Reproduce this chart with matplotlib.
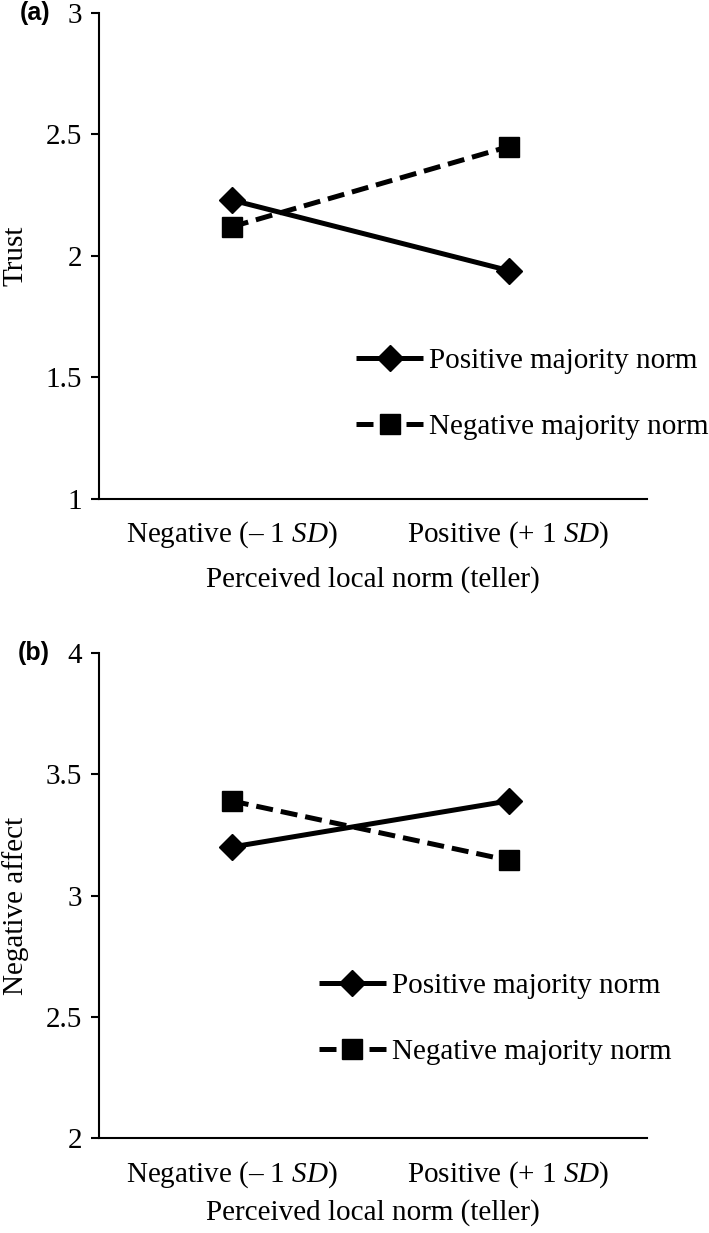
import matplotlib
matplotlib.use("Agg")
import matplotlib.pyplot as plt

# ---------------------------------------------------------------------------
# DATA
# ---------------------------------------------------------------------------
categories  = [r"Negative (– 1 $\mathit{SD}$)", r"Positive (+ 1 $\mathit{SD}$)"]
series_names = ["Positive majority norm", "Negative majority norm"]

trust_pos = [2.23, 1.94]
trust_neg = [2.12, 2.45]

affect_pos = [3.20, 3.39]
affect_neg = [3.39, 3.145]

trust_ticks  = [1, 1.5, 2, 2.5, 3]
trust_labels = ["1", "1.5", "2", "2.5", "3"]
affect_ticks  = [2, 2.5, 3, 3.5, 4]
affect_labels = ["2", "2.5", "3", "3.5", "4"]

xlabel = "Perceived local norm (teller)"

# ---------------------------------------------------------------------------
# STYLE
# ---------------------------------------------------------------------------
plt.rcParams["font.family"] = ["Liberation Serif", "DejaVu Serif"]
plt.rcParams["mathtext.fontset"] = "custom"
plt.rcParams["mathtext.rm"] = "Liberation Serif"
plt.rcParams["mathtext.it"] = "Liberation Serif:italic"

FS = 21
LW = 3.6

fig = plt.figure(figsize=(7.09, 12.33), dpi=100)
ax_a = fig.add_axes([0.1396, 0.5953, 0.7730, 0.3942])
ax_b = fig.add_axes([0.1396, 0.0770, 0.7730, 0.3934])


def draw_panel(ax, pos, neg, ticks, tlabels, ylabel, tag, leg_anchor,
               ylab_y, xlab_pad):
    x = list(range(len(categories)))
    ax.plot(x, pos, color="black", lw=LW, marker="D", markersize=13,
            label=series_names[0], solid_capstyle="butt")
    ax.plot(x, neg, color="black", lw=LW, marker="s", markersize=15,
            dashes=(3.4, 1.6), label=series_names[1])

    ax.set_xlim(-0.48, 1.5)
    ax.set_ylim(ticks[0], ticks[-1])
    ax.set_xticks(x)
    ax.set_xticklabels(categories, fontsize=FS)
    ax.set_yticks(ticks)
    ax.set_yticklabels(tlabels, fontsize=FS)
    ax.set_xlabel(xlabel, fontsize=FS, labelpad=xlab_pad)
    ax.set_ylabel(ylabel, fontsize=FS)
    ax.yaxis.label.set_verticalalignment("center")
    ax.yaxis.set_label_coords(-0.153, ylab_y)

    for s in ["top", "right"]:
        ax.spines[s].set_visible(False)
    for s in ["left", "bottom"]:
        ax.spines[s].set_linewidth(1.5)
    ax.tick_params(axis="y", direction="out", length=6, width=1.5, pad=6)
    ax.tick_params(axis="x", length=0, pad=15)

    ax.legend(loc="center left", bbox_to_anchor=leg_anchor, frameon=False,
              fontsize=FS, numpoints=1, handlelength=2.3, handletextpad=0.2,
              labelspacing=1.36, borderpad=0, borderaxespad=0)

    ax.text(-0.089, 1.0, tag, transform=ax.transAxes, fontsize=18,
            fontweight="bold", family="Liberation Sans", ha="right", va="center")


draw_panel(ax_a, trust_pos, trust_neg, trust_ticks, trust_labels, "Trust",
           "(a)", (0.469, 0.216), 0.5, 11)
draw_panel(ax_b, affect_pos, affect_neg, affect_ticks, affect_labels,
           "Negative affect", "(b)", (0.401, 0.245), 0.478, 7)

fig.savefig("out.png", dpi=100)
